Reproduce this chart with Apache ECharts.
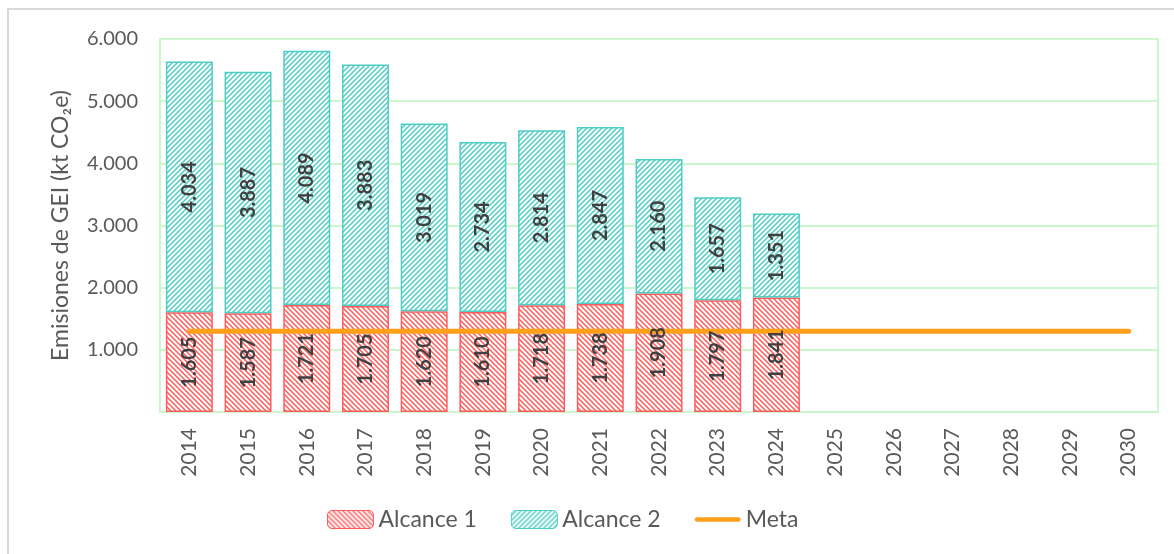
<!DOCTYPE html>
<html>
<head>
<meta charset="utf-8">
<script src="https://cdn.jsdelivr.net/npm/echarts@6/dist/echarts.min.js"></script>
<style>
  html, body { margin: 0; padding: 0; background: #fff; }
  #main { width: 1174px; height: 554px; }
</style>
</head>
<body>
<div id="main"></div>
<script>
var years = ['2014','2015','2016','2017','2018','2019','2020','2021','2022','2023','2024','2025','2026','2027','2028','2029','2030'];
var alcance1 = [1605, 1587, 1721, 1705, 1620, 1610, 1718, 1738, 1908, 1797, 1841];
var alcance2 = [4034, 3887, 4089, 3883, 3019, 2734, 2814, 2847, 2160, 1657, 1351];
var meta = [1300, 1300, 1300, 1300, 1300, 1300, 1300, 1300, 1300, 1300, 1300, 1300, 1300, 1300, 1300, 1300, 1300];
var yTicks = [0, 1000, 2000, 3000, 4000, 5000, 6000];

var FONT = 'Lato';

// hatch tiles
function hatch(color, back) {
	var c = document.createElement('canvas');
	c.width = 5; c.height = 5;
	var ctx = c.getContext('2d');
	ctx.fillStyle = '#fff';
	ctx.fillRect(0, 0, 5, 5);
	ctx.strokeStyle = color;
	ctx.lineWidth = 1.5;
	ctx.beginPath();
	if (back) {
		ctx.moveTo(-1, -1); ctx.lineTo(6, 6);
		ctx.moveTo(-4, 1); ctx.lineTo(4, 9);
		ctx.moveTo(1, -4); ctx.lineTo(9, 4);
	} else {
		ctx.moveTo(-1, 6); ctx.lineTo(6, -1);
		ctx.moveTo(-4, 4); ctx.lineTo(4, -4);
		ctx.moveTo(1, 9); ctx.lineTo(9, 1);
	}
	ctx.stroke();
	return c;
}

function fmt(v) {
	return String(v).replace(/\B(?=(\d{3})+(?!\d))/g, '.');
}

var red = '#ff5b5b', teal = '#4ecdc4', gridGreen = '#ccf7cc';

var barLabel = {
	show: true, position: 'inside', rotate: 90,
	fontSize: 20, fontWeight: 'bold', color: '#404040', fontFamily: FONT,
	formatter: function (p) { return fmt(p.value); }
};

var chart = echarts.init(document.getElementById('main'));
var option = {
	animation: false,
	textStyle: { fontFamily: FONT },
	graphic: [{
		type: 'rect',
		shape: { x: 8, y: 9, width: 1300, height: 700 },
		style: { fill: 'none', stroke: '#d9d9d9', lineWidth: 2 },
		silent: true
	}],
	grid: {
		left: 160, right: 16, top: 39, bottom: 142,
		show: true, borderColor: gridGreen, borderWidth: 2
	},
	legend: {
		bottom: 18,
		left: 322,
		itemWidth: 46,
		itemHeight: 18,
		itemGap: 34,
		textStyle: { fontSize: 23, color: '#595959', fontFamily: FONT },
		data: [
			{ name: 'Alcance 1', itemStyle: { borderColor: red, borderWidth: 1 } },
			{ name: 'Alcance 2', itemStyle: { borderColor: teal, borderWidth: 1 } },
			{ name: 'Meta', icon: 'path://M2,0 L98,0 A2,2 0 0 1 98,10 L2,10 A2,2 0 0 1 2,0 Z', itemStyle: { color: '#ff9f1a' } }
		]
	},
	xAxis: {
		type: 'category',
		data: years,
		axisTick: { show: false },
		axisLine: { lineStyle: { color: gridGreen, width: 2 } },
		axisLabel: { rotate: 90, fontSize: 21, color: '#595959', margin: 16, fontFamily: FONT }
	},
	yAxis: {
		type: 'value',
		min: yTicks[0],
		max: yTicks[yTicks.length - 1],
		interval: 1000,
		name: 'Emisiones de GEI (kt CO₂e)',
		nameLocation: 'middle',
		nameRotate: 90,
		nameGap: 88,
		nameTextStyle: { fontSize: 23, color: '#595959', fontFamily: FONT },
		axisLine: { show: false },
		axisTick: { show: false },
		splitLine: { lineStyle: { color: gridGreen, width: 2 } },
		axisLabel: {
			fontSize: 20, color: '#595959', margin: 22, fontFamily: FONT,
			formatter: function (v) { return v === 0 ? '' : fmt(v); }
		}
	},
	series: [
		{
			name: 'Alcance 1',
			type: 'bar',
			stack: 'total',
			barCategoryGap: '20%',
			barGap: '-100%',
			data: alcance1,
			itemStyle: { color: { image: hatch(red, true), repeat: 'repeat' }, borderColor: red, borderWidth: 1.5 },
			z: 2
		},
		{
			name: 'Alcance 2',
			type: 'bar',
			stack: 'total',
			barCategoryGap: '20%',
			barGap: '-100%',
			data: alcance2,
			itemStyle: { color: { image: hatch(teal, false), repeat: 'repeat' }, borderColor: teal, borderWidth: 1.5 },
			z: 2
		},
		{
			name: 'Meta',
			type: 'line',
			data: meta,
			symbol: 'none',
			lineStyle: { color: '#ff9f1a', width: 5, cap: 'round' },
			itemStyle: { color: '#ff9f1a' },
			z: 3
		},
		// transparent copies carrying the value labels above the Meta line
		{
			name: 'lbl1', type: 'bar', stack: 'labels', silent: true,
			barCategoryGap: '20%', barGap: '-100%',
			data: alcance1, itemStyle: { color: 'transparent' }, label: barLabel, z: 4
		},
		{
			name: 'lbl2', type: 'bar', stack: 'labels', silent: true,
			barCategoryGap: '20%', barGap: '-100%',
			data: alcance2, itemStyle: { color: 'transparent' }, label: barLabel, z: 4
		}
	]
};
chart.setOption(option);
</script>
</body>
</html>
